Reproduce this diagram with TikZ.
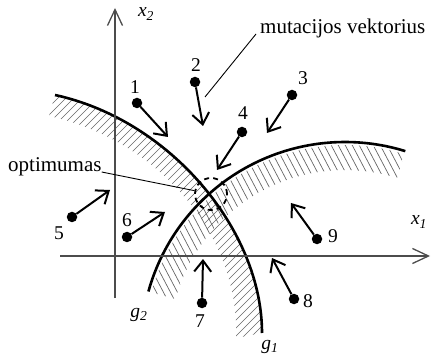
\documentclass[tikz,border=0pt]{standalone}
\usepackage{fontspec}
\setmainfont{Liberation Serif}
\usetikzlibrary{arrows.meta}

\begin{document}
\begin{tikzpicture}[x=1pt, y=-1pt,
  pt/.style={circle, fill=black, inner sep=0pt, minimum size=10.5pt},
  lb/.style={font=\fontsize{19.5}{22}\selectfont, inner sep=0pt},
  tx/.style={font=\fontsize{21}{24}\selectfont, inner sep=0pt},
  v/.style={-{Straight Barb[length=11pt,width=17pt]}, line width=2pt},
  ax/.style={-{Straight Barb[length=16pt,width=15pt]}, line width=1.3pt, black!70},
  ht/.style={line width=0.7pt, black!60},
  bd/.style={line width=2.6pt}]
\useasboundingbox (0,0) rectangle (431,358);
% hatched bands
\begin{scope}
\clip (55,95) .. controls (170,120) and (262,230) .. (262,333) -- (236,338)
  .. controls (240,236) and (159,140) .. (49,116) -- cycle;
\foreach \c in {100,108,...,760} \draw[ht] (\c,0) -- (\c-400,400);
\end{scope}
\begin{scope}
\clip plot[domain=72.8:164.5, samples=60] ({345+201*cos(\x)},{346-201*sin(\x)})
  -- plot[domain=164.5:72.8, samples=60] ({345+176*cos(\x)},{346-176*sin(\x)}) -- cycle;
\foreach \s in {-60,-53,...,430} \draw[ht] (\s,0) -- (\s+210,400);
\end{scope}
\draw[bd] (55,95) .. controls (170,120) and (262,230) .. (262,333);
\draw[bd] plot[domain=72.8:164.5, samples=60, smooth] ({345+204*cos(\x)},{346-204*sin(\x)});
% axes
\coordinate (xa) at (60,256); \coordinate (xb) at (430,256);
\coordinate (ya) at (115,298); \coordinate (yb) at (115,8);
\draw[ax] (xa) -- (xb); \draw[ax] (ya) -- (yb);
\node[lb] (x1) at (419,222) {\itshape x\textsubscript{1}};
\node[lb] (x2) at (146,14) {\itshape x\textsubscript{2}};
\node[lb] (g1) at (270,347) {\itshape g\textsubscript{1}};
\node[lb] (g2) at (139,315) {\itshape g\textsubscript{2}};
% points and vectors
\node[pt] (p1) at (137,103) {}; \node[lb] (n1) at (135,87) {1};
\node[pt] (p2) at (195,82) {};  \node[lb] (n2) at (196,65) {2};
\node[pt] (p3) at (292,95) {};  \node[lb] (n3) at (303,78) {3};
\node[pt] (p4) at (242,132) {}; \node[lb] (n4) at (243,113) {4};
\node[pt] (p5) at (72,217) {};  \node[lb] (n5) at (59,233) {5};
\node[pt] (p6) at (127,237) {}; \node[lb] (n6) at (127,220) {6};
\node[pt] (p7) at (202,303) {}; \node[lb] (n7) at (200,321) {7};
\node[pt] (p8) at (294,299) {}; \node[lb] (n8) at (308,301) {8};
\node[pt] (p9) at (317,239) {}; \node[lb] (n9) at (333,236) {9};
\coordinate (e1) at (168,137); \coordinate (e2) at (203,126);
\coordinate (e3) at (267,133); \coordinate (e4) at (217,170);
\coordinate (e5) at (110,190); \coordinate (e6) at (165,212);
\coordinate (e7) at (203,259); \coordinate (e8) at (272,258);
\coordinate (e9) at (291,203);
\draw[v] (p1) -- (e1); \draw[v] (p2) -- (e2); \draw[v] (p3) -- (e3);
\draw[v] (p4) -- (e4); \draw[v] (p5) -- (e5); \draw[v] (p6) -- (e6);
\draw[v] (p7) -- (e7); \draw[v] (p8) -- (e8); \draw[v] (p9) -- (e9);
% optimum and labels
\node[draw, circle, minimum size=32pt, line width=1.8pt, dash pattern=on 5pt off 4pt] (opt) at (211,194) {};
\node[tx, anchor=base west] (optl) at (8,172) {optimumas};
\draw[line width=0.9pt] (optl.base east) -- (opt);
\node[tx, anchor=base west] (mvl) at (260,34) {mutacijos vektorius};
\coordinate (mv) at (205,97);
\draw[line width=0.9pt] ([xshift=-4pt]mvl.base west) -- (mv);
\end{tikzpicture}
\end{document}
